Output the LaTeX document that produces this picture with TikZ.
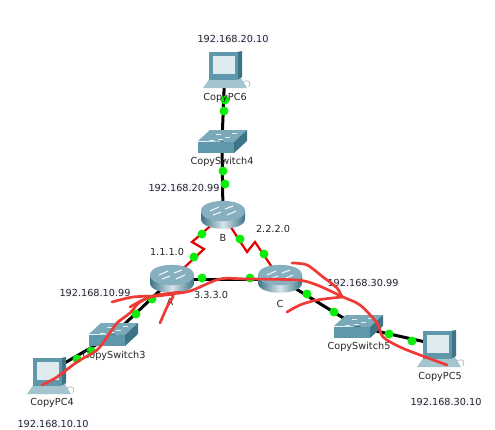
\documentclass[tikz,border=0pt]{standalone}
\usepackage{fontspec}
\setmainfont{DejaVu Sans}
\definecolor{netred}{HTML}{EE3B36}
\definecolor{led}{HTML}{0BEE0B}
\definecolor{teal1}{HTML}{5F97AB}
\definecolor{teal2}{HTML}{3E7488}
\definecolor{teal3}{HTML}{86B0C0}
\tikzset{
  x=1pt,y=-1pt,
  link/.style={line width=3pt,black},
  serial/.style={line width=2.2pt,red!90!black,line join=miter},
  dot/.style={circle,fill=led,draw=none,minimum size=9pt,inner sep=0pt},
  lbl/.style={font=\fontsize{9.7}{11}\selectfont,inner sep=0.5pt,text=black!85},
  ip/.style={lbl,fill=blue!3},
  scribble/.style={netred,line width=2.7pt,line cap=round,line join=round},
  router/.pic={
    \path[left color=teal2,right color=teal2,middle color=white!75!teal1]
      (-22,-4) -- (-22,4) .. controls (-22,17) and (22,17) .. (22,4) -- (22,-4) -- cycle;
    \fill[teal3] (-22,-4) .. controls (-22,-17.5) and (22,-17.5) .. (22,-4)
       .. controls (22,9.5) and (-22,9.5) .. (-22,-4) -- cycle;
    \draw[white!90!teal1,line width=1.1pt] (-13,-4)--(-4,-8) (13,-4)--(4,0) (-10,0)--(-2,-3) (10,-9)--(2,-6);
  },
  switchbox/.pic={
    \fill[teal3!70!teal1] (-24,-1) -- (-12,-12) -- (25,-12) -- (12,0) -- cycle;
    \fill[teal1] (-24,0) rectangle (12,11);
    \fill[teal2] (12,0) -- (25,-12) -- (25,-1) -- (12,11) -- cycle;
    \draw[white!85!teal1,line width=.8pt] (-13,-2)--(-8,-2) (-6,-8)--(-1,-8) (3,-5)--(8,-5) (10,-9)--(15,-9) (-4,-3)--(1,-3);
  },
  pcbox/.pic={
    \fill[teal3!75!white] (-15,12) -- (16,12) -- (22,22) -- (-22,22) -- cycle;
    \draw[black!25,line width=.8pt] (18,16) .. controls (24,13) and (26,16) .. (24,21);
    \fill[teal2] (12,-14) -- (17,-15) -- (17,11) -- (12,14) -- cycle;
    \fill[teal1] (-16,-14) rectangle (13,14);
    \fill[white!80!teal1] (-12,-10) rectangle (10,8);
  }
}
\begin{document}
\begin{tikzpicture}
\useasboundingbox (0,0) rectangle (495,429);
\fill[white] (0,0) rectangle (495,429);
% device anchors
\coordinate (pc6) at (225,66);
\coordinate (sw4) at (222,142);
\coordinate (rb) at (223,215);
\coordinate (ra) at (172,279);
\coordinate (rc) at (280,279);
\coordinate (sw3) at (113,335);
\coordinate (pc4) at (49,372);
\coordinate (sw5) at (358,327);
\coordinate (pc5) at (439,345);
% serial bends
\coordinate (ab1) at (192,242);
\coordinate (ab2) at (204,249);
\coordinate (bc1) at (247,252);
\coordinate (bc2) at (255,242);
% links
\draw[link] (pc6) -- (sw4);
\draw[link] (sw4) -- (rb);
\draw[link] (ra) -- (rc);
\draw[link] (ra) -- (sw3);
\draw[link] (sw3) -- (pc4);
\draw[link] (rc) -- (sw5);
\draw[link] (sw5) -- (pc5);
\draw[serial] (rb) -- (ab1) -- (ab2) -- (ra);
\draw[serial] (rb) -- (bc1) -- (bc2) -- (rc);
% devices
\pic at (pc6) {pcbox};
\pic at (pc4) {pcbox};
\pic at (pc5) {pcbox};
\pic at (sw4) {switchbox};
\pic at (sw3) {switchbox};
\pic at (sw5) {switchbox};
\pic at (rb) {router};
\pic at (ra) {router};
\pic at (rc) {router};
% link lights
\node[dot] (d1) at (225,100) {};
\node[dot] (d2) at (224,111) {};
\node[dot] (d3) at (223,171) {};
\node[dot] (d4) at (225,184) {};
\node[dot] (d5) at (202,234) {};
\node[dot] (d6) at (194,257) {};
\node[dot] (d7) at (240,239) {};
\node[dot] (d8) at (264,254) {};
\node[dot] (d9) at (202,278) {};
\node[dot] (d10) at (250,278) {};
\node[dot] (d11) at (307,294) {};
\node[dot] (d12) at (334,312) {};
\node[dot] (d13) at (389,334) {};
\node[dot] (d14) at (412,341) {};
\node[dot] (d15) at (152,299) {};
\node[dot] (d16) at (136,314) {};
\node[dot] (d17) at (91,351) {};
\node[dot] (d18) at (77,359) {};
% labels
\node[ip] (l1) at (233,39) {192.168.20.10};
\node[lbl] (l2) at (225,98) {CopyPC6};
\node[lbl] (l3) at (222,162) {CopySwitch4};
\node[ip] (l4) at (184,188) {192.168.20.99};
\node[lbl] (l5) at (223,238) {B};
\node[lbl] (l6) at (273,229) {2.2.2.0};
\node[lbl] (l7) at (167,252) {1.1.1.0};
\node[lbl] (l8) at (211,295) {3.3.3.0};
\node[lbl] (l9) at (170,302) {A};
\node[lbl] (l10) at (280,304) {C};
\node[ip] (l11) at (363,283) {192.168.30.99};
\node[lbl] (l12) at (359,347) {CopySwitch5};
\node[lbl] (l13) at (440,377) {CopyPC5};
\node[ip] (l14) at (446,402) {192.168.30.10};
\node[ip] (l15) at (95,293) {192.168.10.99};
\node[lbl] (l16) at (114,356) {CopySwitch3};
\node[lbl] (l17) at (52,403) {CopyPC4};
\node[ip] (l18) at (53,424) {192.168.10.10};
% red hand-drawn strokes
\draw[scribble] plot[smooth,tension=.5] coordinates {(42,385) (57,377) (77,362) (97,350) (107,337) (117,323) (130,313) (140,302) (157,295) (180,293) (193,290) (220,279) (247,279) (297,280) (317,285) (343,297) (360,305) (377,323) (383,337) (400,347) (420,355) (447,365)};
\draw[scribble] plot[smooth,tension=.5] coordinates {(112,302) (133,297) (157,296) (173,295) (167,307) (160,323)};
\draw[scribble] plot[smooth,tension=.5] coordinates {(130,307) (150,297) (180,292)};
\draw[scribble] plot[smooth,tension=.5] coordinates {(292,263) (307,265) (323,277) (337,288) (342,297)};
\draw[scribble] plot[smooth,tension=.5] coordinates {(287,312) (300,305) (317,300) (342,297)};
\end{tikzpicture}
\end{document}
